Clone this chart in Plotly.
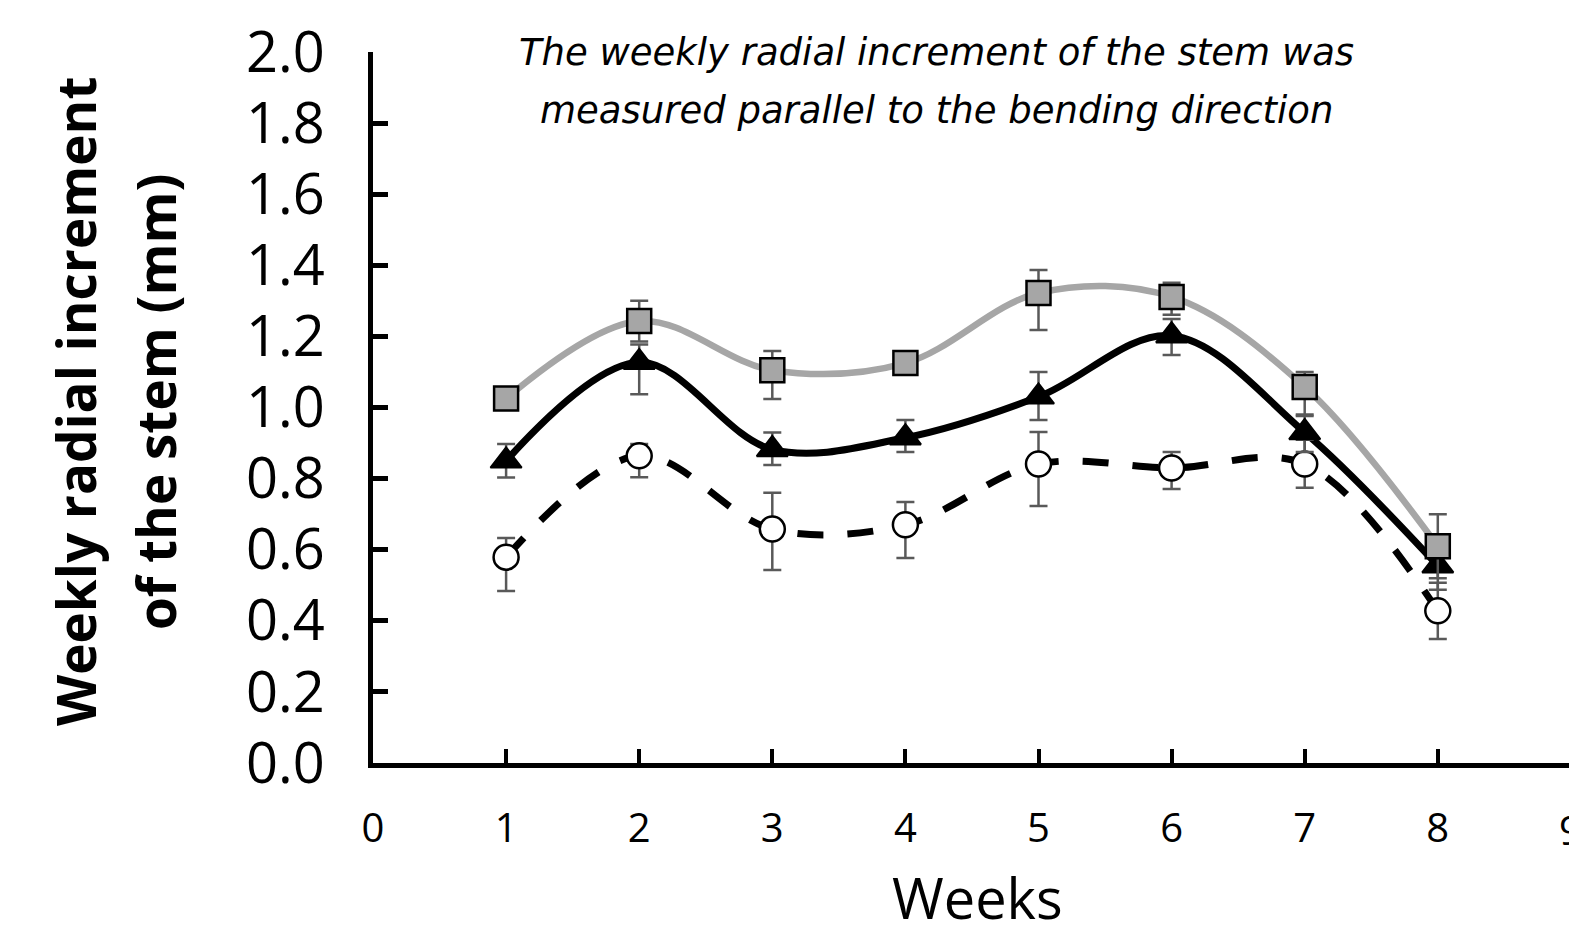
import plotly.graph_objects as go

weeks = [1, 2, 3, 4, 5, 6, 7, 8]

# gray squares
sq_val = [1.025, 1.243, 1.105, 1.125, 1.322, 1.311, 1.058, 0.610]
sq_up = [0.010, 0.057, 0.054, 0.020, 0.065, 0.040, 0.042, 0.090]
sq_dn = [0.010, 0.057, 0.081, 0.020, 0.104, 0.050, 0.082, 0.090]

# black triangles
tr_val = [0.850, 1.127, 0.882, 0.915, 1.030, 1.202, 0.930, 0.555]
tr_up = [0.047, 0.050, 0.048, 0.050, 0.070, 0.047, 0.050, 0.050]
tr_dn = [0.047, 0.090, 0.044, 0.040, 0.065, 0.054, 0.055, 0.068]

# open circles
ci_val = [0.579, 0.864, 0.658, 0.670, 0.841, 0.830, 0.841, 0.428]
ci_up = [0.054, 0.033, 0.102, 0.064, 0.090, 0.045, 0.068, 0.079]
ci_dn = [0.095, 0.060, 0.115, 0.093, 0.118, 0.059, 0.067, 0.079]

x_ticks = [0, 1, 2, 3, 4, 5, 6, 7, 8]
x_cut_label = "9"
y_ticks = [0.0, 0.2, 0.4, 0.6, 0.8, 1.0, 1.2, 1.4, 1.6, 1.8, 2.0]
y_ticktext = [f"{v:.1f}" for v in y_ticks]

title_lines = ["The weekly radial increment of the stem was",
               "measured parallel to the bending direction"]
ytitle_lines = ["Weekly radial increment", "of the stem (mm)"]
xtitle = "Weeks"

FONT = "Open Sans"
TITLE_FONT = "DejaVu Sans"
ERR_COLOR = "#595959"

fig = go.Figure()

# lines (drawn first)
fig.add_trace(go.Scatter(x=weeks, y=sq_val, mode="lines",
                         line=dict(color="#A6A6A6", width=6.5, shape="spline", smoothing=1.0),
                         hoverinfo="skip", showlegend=False))
fig.add_trace(go.Scatter(x=weeks, y=tr_val, mode="lines",
                         line=dict(color="black", width=7, shape="spline", smoothing=1.0),
                         hoverinfo="skip", showlegend=False))
fig.add_trace(go.Scatter(x=weeks, y=ci_val, mode="lines",
                         line=dict(color="black", width=7, shape="spline", smoothing=1.0,
                                   dash="26px,24px"),
                         hoverinfo="skip", showlegend=False))

def err(up, dn):
    return dict(type="data", symmetric=False, array=up, arrayminus=dn,
                color=ERR_COLOR, thickness=2.5, width=9)

fig.add_trace(go.Scatter(x=weeks, y=ci_val, mode="markers",
                         marker=dict(symbol="circle", size=25, color="white",
                                     line=dict(color="black", width=2.5)),
                         error_y=err(ci_up, ci_dn), showlegend=False))
fig.add_trace(go.Scatter(x=weeks, y=tr_val, mode="markers",
                         marker=dict(symbol="triangle-up", size=27, color="black",
                                     line=dict(color="black", width=2)),
                         error_y=err(tr_up, tr_dn), showlegend=False))
fig.add_trace(go.Scatter(x=weeks, y=sq_val, mode="markers",
                         marker=dict(symbol="square", size=24, color="#A6A6A6",
                                     line=dict(color="black", width=2.5)),
                         error_y=err(sq_up, sq_dn), showlegend=False))

L, T, W, H = 373, 52, 1569, 946
B = 946 - 763
PX_PER_WEEK = 133.1

fig.update_layout(
    width=W, height=H,
    margin=dict(l=L, r=0, t=T, b=B, pad=0),
    paper_bgcolor="white", plot_bgcolor="white",
    font=dict(family=FONT, color="black"),
    showlegend=False,
)

fig.update_xaxes(
    range=[0, (W - L) / PX_PER_WEEK], tickmode="array", tickvals=x_ticks,
    ticktext=[str(v) for v in x_ticks],
    showgrid=False, zeroline=False, showline=True, linecolor="black", linewidth=5,
    ticks="inside", ticklen=14, tickwidth=4, tickcolor="black",
    tickfont=dict(family=FONT, size=40, color="black"), ticklabelstandoff=26,
)
fig.update_yaxes(
    range=[0, 2.0], tickmode="array", tickvals=y_ticks, ticktext=y_ticktext,
    showgrid=False, zeroline=False, showline=True, linecolor="black", linewidth=5,
    ticks="inside", ticklen=15, tickwidth=5, tickcolor="black",
    tickfont=dict(family=FONT, size=56, color="black"), ticklabelstandoff=32,
)

# tick label "9" at the cut-off right edge (week 9 lies just beyond the plot edge)
x9_shift = L + 9 * PX_PER_WEEK - W
fig.add_annotation(x=1, y=0, xref="paper", yref="paper", text=x_cut_label, showarrow=False,
                   xanchor="center", yanchor="middle", xshift=x9_shift, yshift=-66,
                   font=dict(family=FONT, size=40, color="black"))

# chart title (italic, two lines)
for line, ypx in zip(title_lines, [52, 110]):
    fig.add_annotation(x=0, y=0, xref="paper", yref="paper", text=line, showarrow=False,
                       xanchor="center", yanchor="middle", xshift=936 - L, yshift=763 - ypx,
                       font=dict(family=TITLE_FONT, size=37, color="black", style="italic"))

# y-axis title (bold, two rotated lines)
for line, xpx in zip(ytitle_lines, [75, 155]):
    fig.add_annotation(x=0, y=0, xref="paper", yref="paper", text=line, showarrow=False,
                       textangle=-90, xanchor="center", yanchor="middle",
                       xshift=xpx - L, yshift=763 - 402,
                       font=dict(family=FONT, size=53, color="black", weight="bold"))

# x-axis title
fig.add_annotation(x=0, y=0, xref="paper", yref="paper", text=xtitle, showarrow=False,
                   xanchor="center", yanchor="middle", xshift=977 - L, yshift=763 - 897,
                   font=dict(family=FONT, size=56, color="black"))

fig.write_html("out.html", config={"displayModeBar": False},
               post_script="document.body.style.margin='0';document.body.style.overflow='hidden';")
